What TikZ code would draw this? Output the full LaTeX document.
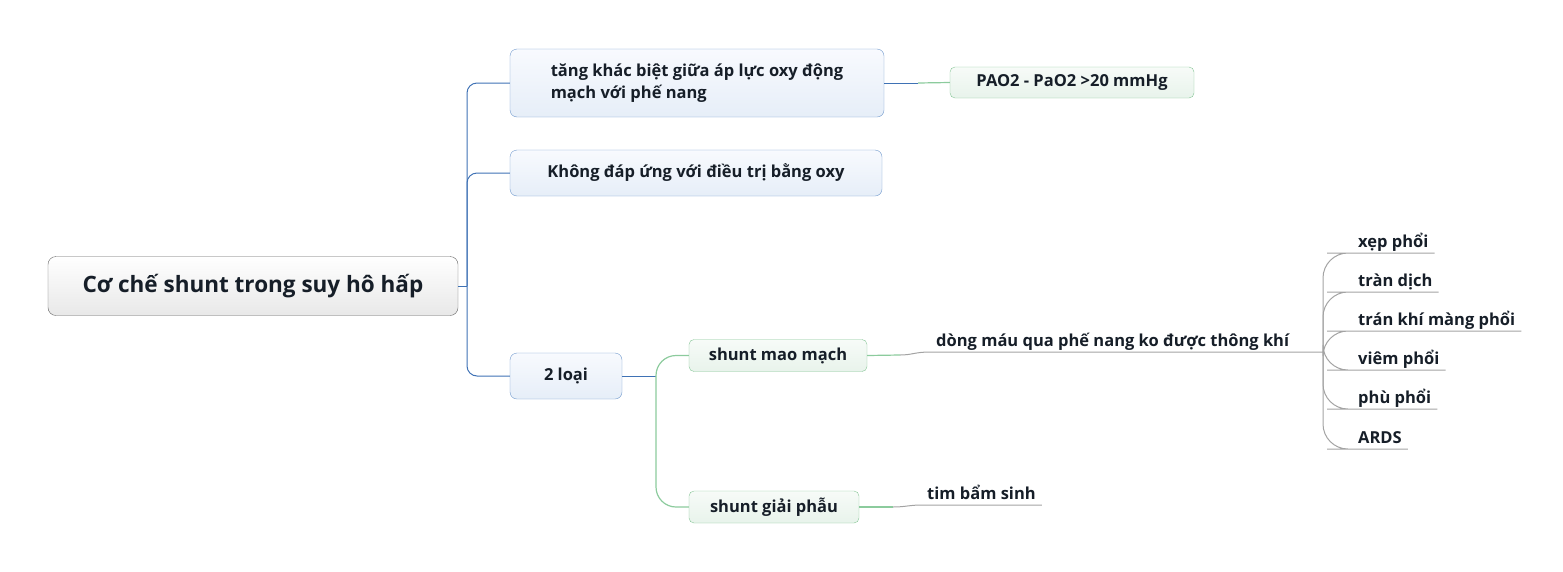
\documentclass[tikz,border=0pt]{standalone}
\usepackage{fontspec}
\setmainfont{Open Sans}

\definecolor{topicline}{HTML}{3F72B5}
\definecolor{topicdraw}{HTML}{6F98CC}
\definecolor{topictop}{HTML}{F8FAFE}
\definecolor{topicbot}{HTML}{E6EEF8}
\definecolor{subline}{HTML}{8CCB9D}
\definecolor{subdraw}{HTML}{86C596}
\definecolor{subtop}{HTML}{F7FBF8}
\definecolor{subbot}{HTML}{E8F3EB}
\definecolor{twigline}{HTML}{A3A3A3}
\definecolor{inktext}{HTML}{161E28}

\begin{document}
\begin{tikzpicture}[x=1pt, y=-1pt,
                    every node/.style={text=inktext, font=\fontsize{16.5}{22.5}\selectfont\bfseries},
                    rootbox/.style={draw=black!60, rounded corners=8pt, top color=white, bottom color=black!9,
                                    minimum width=410pt, minimum height=59pt,
                                    font=\fontsize{22.5}{26}\selectfont\bfseries},
                    topicbox/.style={draw=topicdraw, rounded corners=7pt, top color=topictop, bottom color=topicbot,
                                     minimum height=46pt},
                    subbox/.style={draw=subdraw, rounded corners=5pt, top color=subtop, bottom color=subbot,
                                   minimum height=32pt},
                    leaf/.style={anchor=south west, inner xsep=6pt, inner ysep=1pt, text depth=4.5pt},
                    bluebranch/.style={draw=topicline, line width=1pt},
                    greenbranch/.style={draw=subline, line width=1.2pt},
                    twig/.style={draw=twigline, line width=1pt}]
  \useasboundingbox (0,0) rectangle (1563,571);

  % Define nodes
  \node[rootbox] (root) at (253,286) {Cơ chế shunt trong suy hô hấp};

  \node[topicbox, minimum height=68pt, minimum width=374pt, align=left] (gap) at (697,83)
    {tăng khác biệt giữa áp lực oxy động\\mạch với phế nang};
  \node[topicbox, minimum width=372pt] (nooxy) at (696,173) {Không đáp ứng với điều trị bằng oxy};
  \node[topicbox, minimum width=112pt] (kinds) at (566,376) {2 loại};

  \node[subbox, minimum width=244pt, minimum height=31pt] (pao) at (1072,82.5) {PAO2 - PaO2 >20 mmHg};
  \node[subbox, minimum width=178pt] (capil) at (778,355.5) {shunt mao mạch};
  \node[subbox, minimum width=170pt] (anat) at (774,507) {shunt giải phẫu};

  \node[leaf] (flow) at (930,352) {dòng máu qua phế nang ko được thông khí};
  \node[leaf] (heart) at (921,505) {tim bẩm sinh};

  \node[leaf] (atel) at (1352,253) {xẹp phổi};
  \node[leaf] (effus) at (1352,292) {tràn dịch};
  \node[leaf] (pneumo) at (1352,331) {trán khí màng phổi};
  \node[leaf] (pneumon) at (1352,370) {viêm phổi};
  \node[leaf] (edema) at (1352,409) {phù phổi};
  \node[leaf] (ards) at (1352,449) {ARDS};

  \coordinate (trunk) at (467,286);
  \coordinate (gapend) at (918,83);
  \coordinate (split) at (656,376);
  \coordinate (capend) at (900,355);
  \coordinate (anatend) at (893,507);
  \coordinate (fan) at (1323,352);

  % Define paths
  \draw[bluebranch] (root.east) -- (trunk);
  \draw[bluebranch, rounded corners=10pt] (trunk) |- (gap.west);
  \draw[bluebranch, rounded corners=10pt] (trunk) |- (nooxy.west);
  \draw[bluebranch, rounded corners=10pt] (trunk) |- (kinds.west);

  \draw[bluebranch] (gap.east) -- (gapend);
  \draw[greenbranch] (gapend) -- (pao.west);

  \draw[bluebranch] (kinds.east) -- (split);
  \draw[greenbranch, rounded corners=20pt] (split) |- (capil.west);
  \draw[greenbranch, rounded corners=20pt] (split) |- (anat.west);

  \draw[greenbranch] (capil.east) -- (capend);
  \draw[twig] (capend) .. controls (912,355) and (915,352) .. (flow.south west) -- (fan);
  \draw[greenbranch] (anat.east) -- (anatend);
  \draw[twig] (anatend) .. controls (905,507) and (910,505) .. (heart.south west) -- (heart.south east);

  % Leaves of the fan
  \foreach \leafname in {atel, effus, pneumo, pneumon, edema, ards}
    \draw[twig, rounded corners=25pt] (fan) |- (\leafname.south west) -- (\leafname.south east);

\end{tikzpicture}
\end{document}
